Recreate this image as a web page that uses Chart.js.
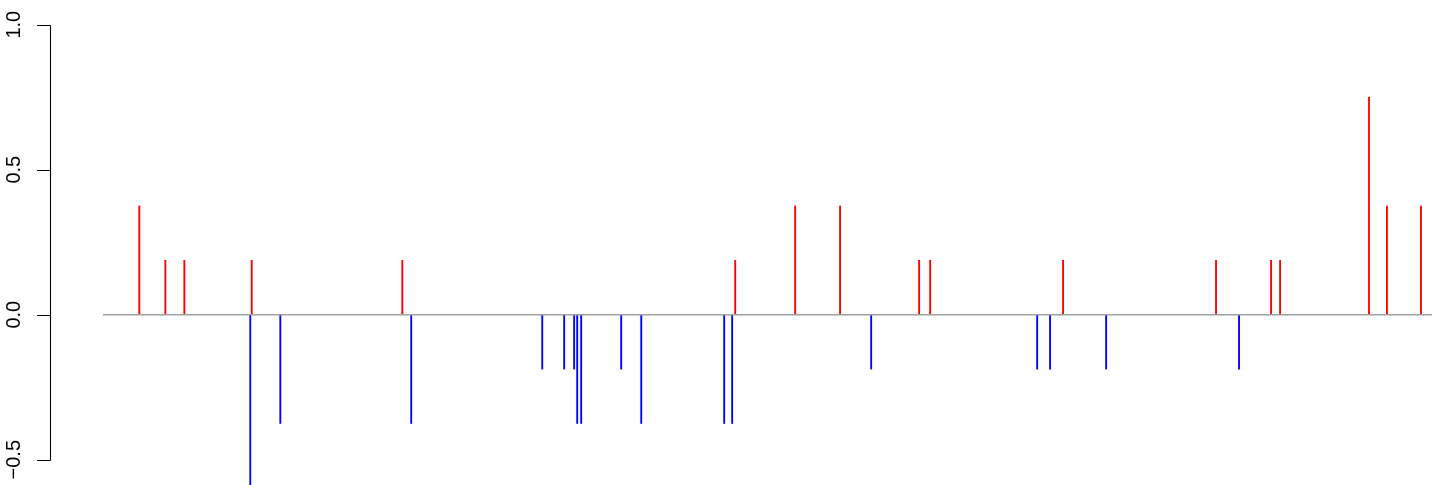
<!DOCTYPE html>
<html>
<head>
<meta charset="utf-8">
<script src="https://cdn.jsdelivr.net/npm/chart.js@4"></script>
<style>
  html, body { margin: 0; padding: 0; background: #fff; }
  #wrap { width: 1444px; height: 485px; }
</style>
</head>
<body>
<div id="wrap"><canvas id="chart" width="1444" height="485"></canvas></div>
<script>
// position of each spike along the series (0..1000) and its height
const positions = [27.3, 46.9, 61.2, 110.8, 111.9, 133.4, 225.2, 231.9, 330.5, 347.0,
                   354.5, 356.8, 359.8, 389.9, 405.0, 467.4, 473.4, 475.7, 520.8, 554.6,
                   578.0, 614.1, 622.4, 702.9, 712.6, 722.4, 754.8, 837.5, 854.8, 878.9,
                   885.7, 952.6, 966.1, 991.7];
const values = [0.375, 0.1875, 0.1875, -0.75, 0.1875, -0.375, 0.1875, -0.375, -0.1875, -0.1875,
                -0.1875, -0.375, -0.375, -0.1875, -0.375, -0.375, -0.375, 0.1875, 0.375, 0.375,
                -0.1875, 0.1875, 0.1875, -0.1875, -0.1875, 0.1875, -0.1875, 0.1875, -0.1875, 0.1875,
                0.1875, 0.75, 0.375, 0.375];
const baseRange = [0, 1000];
const yTicks = [-0.5, 0, 0.5, 1.0];
const yTickLabels = ['\u22120.5', '0.0', '0.5', '1.0'];

const spikes = positions.map((p, i) => ({ x: p, y: values[i] }));
const spikeColors = values.map(v => v >= 0 ? '#ff0000' : '#0000ff');

// R style left axis: line from first to last tick, outward ticks, rotated labels
const rAxis = {
  id: 'rAxis',
  afterDraw(chart) {
    const ctx = chart.ctx;
    const y = chart.scales.y;
    const ax = 50.5;
    ctx.save();
    ctx.strokeStyle = '#000';
    ctx.lineWidth = 1.1;
    ctx.beginPath();
    ctx.moveTo(ax, Math.round(y.getPixelForValue(yTicks[0])) + 0.5);
    ctx.lineTo(ax, Math.round(y.getPixelForValue(yTicks[yTicks.length - 1])) + 0.5);
    yTicks.forEach(t => {
      const py = Math.round(y.getPixelForValue(t)) + 0.5;
      ctx.moveTo(37, py);
      ctx.lineTo(ax, py);
    });
    ctx.stroke();
    ctx.fillStyle = '#000';
    ctx.font = '20px "Liberation Sans", Arial, sans-serif';
    ctx.textAlign = 'center';
    ctx.textBaseline = 'alphabetic';
    yTicks.forEach((t, i) => {
      ctx.save();
      ctx.translate(19.5, y.getPixelForValue(t));
      ctx.rotate(-Math.PI / 2);
      ctx.fillText(yTickLabels[i], 0, 0);
      ctx.restore();
    });
    ctx.restore();
  }
};

new Chart(document.getElementById('chart'), {
  type: 'bar',
  data: {
    datasets: [
      {
        type: 'line',
        data: baseRange.map(x => ({ x: x, y: 0 })),
        borderColor: '#a0a0a0',
        borderWidth: 1.6,
        pointRadius: 0,
        order: 0
      },
      {
        data: spikes,
        backgroundColor: spikeColors,
        borderWidth: 0,
        barThickness: 1.2,
        order: 1
      }
    ]
  },
  options: {
    responsive: false,
    animation: false,
    layout: { padding: { left: 50, right: 12, top: 0, bottom: 0 } },
    plugins: { legend: { display: false }, tooltip: { enabled: false } },
    scales: {
      x: { type: 'linear', display: false, offset: false, min: -39.9, max: 1000 },
      y: { display: false, min: -0.5872, max: 1.0852 }
    }
  },
  plugins: [rAxis]
});
</script>
</body>
</html>
